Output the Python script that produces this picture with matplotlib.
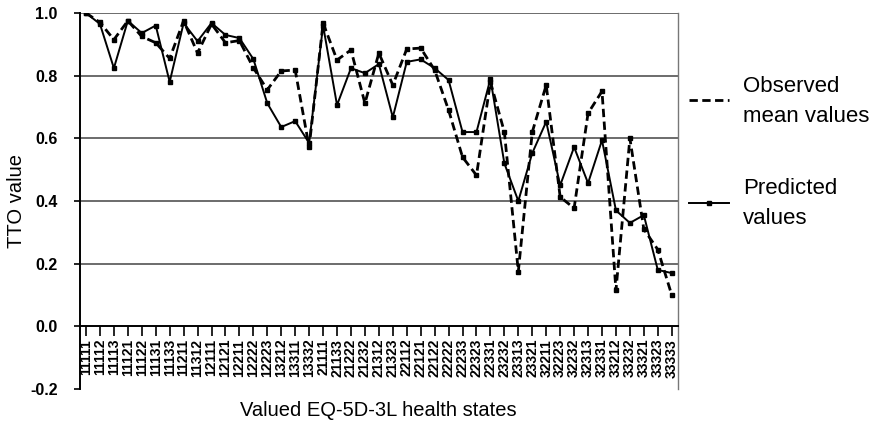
import matplotlib
matplotlib.use("Agg")
import matplotlib.pyplot as plt
from matplotlib.lines import Line2D

plt.rcParams["font.family"] = ["Liberation Sans", "DejaVu Sans"]

# valued health states (x axis)
states = [
    "11111", "11112", "11113", "11121", "11122", "11131", "11133", "11211",
    "11312", "12111", "12121", "12211", "12222", "12223", "13212", "13311",
    "13332", "21111", "21133", "21222", "21232", "21312", "21323", "22112",
    "22121", "22122", "22222", "22233", "22323", "22331", "23232", "23313",
    "23321", "32211", "32223", "32232", "32313", "32331", "33212", "33232",
    "33321", "33323", "33333",
]

# observed mean TTO values
observed = [
    1.00, 0.97, 0.915, 0.975, 0.925, 0.905, 0.855, 0.975,
    0.872, 0.965, 0.905, 0.912, 0.825, 0.755, 0.815, 0.818,
    0.572, 0.968, 0.850, 0.882, 0.712, 0.872, 0.770, 0.885,
    0.888, 0.818, 0.690, 0.540, 0.482, 0.780, 0.620, 0.175,
    0.620, 0.770, 0.413, 0.377, 0.680, 0.750, 0.115, 0.600,
    0.310, 0.245, 0.100,
]

# model predicted values
predicted = [
    1.00, 0.965, 0.824, 0.975, 0.936, 0.960, 0.780, 0.968,
    0.910, 0.968, 0.930, 0.920, 0.853, 0.712, 0.636, 0.655,
    0.585, 0.960, 0.706, 0.824, 0.808, 0.837, 0.667, 0.844,
    0.852, 0.824, 0.786, 0.620, 0.620, 0.790, 0.520, 0.400,
    0.553, 0.653, 0.450, 0.572, 0.457, 0.594, 0.370, 0.330,
    0.355, 0.180, 0.170,
]

yticks = [-0.2, 0.0, 0.2, 0.4, 0.6, 0.8, 1.0]

W, H = 878, 433
fig = plt.figure(figsize=(W / 100, H / 100), dpi=100)
ax = fig.add_axes([80 / W, 1 - 389 / H, (678 - 80) / W, (389 - 13) / H])

x = list(range(len(states)))
dash = (0, (3, 1.6))

# horizontal grid lines
for g in [0.2, 0.4, 0.6, 0.8, 1.0]:
    ax.axhline(g, color="#444444", linewidth=1.1, zorder=1)

ax.plot(x, observed, color="black", linestyle=dash, linewidth=2.0,
        marker="s", markersize=2.5, zorder=3)
ax.plot(x, predicted, color="black", linestyle="-", linewidth=1.4,
        marker="s", markersize=3, zorder=4)

ax.set_xlim(-0.43, len(states) - 1 + 0.45)
ax.set_ylim(-0.2, 1.0)

ax.spines["top"].set_visible(False)
ax.spines["right"].set_color("#777777")
ax.spines["right"].set_linewidth(1.0)
ax.spines["bottom"].set_position(("data", 0))
ax.spines["bottom"].set_linewidth(1.4)
ax.spines["left"].set_linewidth(1.4)

ax.set_xticks(x)
ax.set_xticklabels(states, rotation=90, fontsize=10, fontweight="bold")
ax.tick_params(axis="x", direction="out", length=7, width=1.2, pad=2)

ax.set_yticks(yticks)
ax.set_yticklabels([f"{v:.1f}" for v in yticks], fontsize=11.5, fontweight="bold")
ax.tick_params(axis="y", direction="out", length=4, width=1.2, pad=12)

ax.set_ylabel("TTO value", fontsize=14.5, labelpad=3)
fig.text(378 / W, 1 - 410 / H, "Valued EQ-5D-3L health states",
         fontsize=14.5, ha="center", va="center")

# legend drawn by hand, in pixel positions of the figure
def fy(py):
    return 1 - py / H

fig.add_artist(Line2D([689 / W, 729 / W], [fy(100), fy(100)], color="black",
                      linestyle=dash, linewidth=2.0))
fig.add_artist(Line2D([689 / W, 729 / W], [fy(203), fy(203)], color="black",
                      linestyle="-", linewidth=1.4))
fig.add_artist(Line2D([709 / W], [fy(203)], color="black", marker="s",
                      markersize=3, linestyle="none"))
for txt, py in [("Observed", 87), ("mean values", 116),
                ("Predicted", 188), ("values", 218)]:
    fig.text(743 / W, fy(py), txt, fontsize=16, ha="left", va="center")

fig.savefig("out.png", dpi=100)
